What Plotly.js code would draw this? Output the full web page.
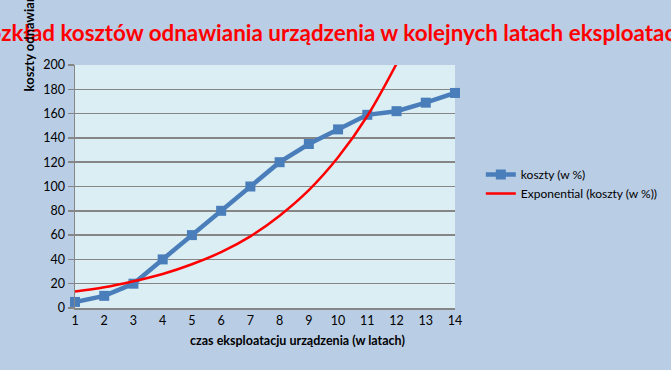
<!DOCTYPE html>
<html>
<head>
<meta charset="utf-8">
<script src="https://cdn.plot.ly/plotly-3.0.1.min.js"></script>
<style>
html,body{margin:0;padding:0;background:#b9cde5;}
#chart{width:671px;height:370px;}
</style>
</head>
<body>
<div id="chart"></div>
<script>
// Data
var years = [1, 2, 3, 4, 5, 6, 7, 8, 9, 10, 11, 12, 13, 14];
var costs = [5, 10, 20, 40, 60, 80, 100, 120, 135, 147, 159, 162, 169, 177];
var trendYears = [1, 2, 3, 4, 5, 6, 7, 8, 9, 10, 11, 12];
var trendValues = [13.5, 17, 22, 28, 36, 46, 59, 76, 97, 124, 158, 201];
var yTicks = [0, 20, 40, 60, 80, 100, 120, 140, 160, 180, 200];

var titleText = 'Rozkład kosztów odnawiania urządzenia w kolejnych latach eksploatacji';
var yTitleText = 'koszty odnawiania';
var xTitleText = 'czas eksploatacju urządzenia (w latach)';
var seriesName = 'koszty (w %)';
var trendName = 'Exponential (koszty (w %))';

var font = 'Lato, Carlito, "Liberation Sans", sans-serif';

var traces = [
  {
    x: years, y: costs, name: seriesName, type: 'scatter', mode: 'lines+markers',
    line: {color: '#4a7ebb', width: 4.5},
    marker: {symbol: 'square', size: 10, color: '#4a7ebb'},
    cliponaxis: false
  },
  {
    x: trendYears, y: trendValues, name: trendName, type: 'scatter', mode: 'lines',
    line: {color: '#ff0000', width: 2.5, shape: 'spline'}
  }
];

var layout = {
  width: 671, height: 370,
  paper_bgcolor: '#b9cde5',
  plot_bgcolor: '#dbeef4',
  margin: {l: 75, r: 216, t: 65, b: 62, autoexpand: false},
  font: {family: font, size: 12, color: '#000'},
  title: {
    text: '<b>' + titleText + '</b>',
    font: {family: font, size: 22.4, color: '#ff0000'},
    x: 0.493, xanchor: 'center', xref: 'container',
    y: 0.911, yanchor: 'middle', yref: 'container'
  },
  showlegend: true,
  legend: {
    x: 1.068, xanchor: 'left', y: 0.51, yanchor: 'middle',
    bgcolor: 'rgba(0,0,0,0)', font: {family: font, size: 12, color: '#000'},
    tracegroupgap: 0
  },
  xaxis: {
    range: [1, 14], tickvals: years, ticktext: years.map(String),
    showgrid: false, zeroline: false,
    showline: true, linecolor: '#868686', linewidth: 1.5,
    ticks: '', ticklen: 0,
    tickfont: {family: font, size: 12.5, color: '#000'},
    fixedrange: true
  },
  yaxis: {
    range: [0, 200], tickvals: yTicks,
    showgrid: true, gridcolor: '#868686', gridwidth: 1.5,
    zeroline: false,
    showline: true, linecolor: '#868686', linewidth: 1.5,
    ticks: 'outside', ticklen: 6, tickcolor: '#868686', tickwidth: 1.5,
    tickfont: {family: font, size: 12.5, color: '#000'},
    fixedrange: true
  },
  annotations: [
    {
      text: '<b>' + xTitleText + '</b>', xref: 'paper', yref: 'paper',
      x: 0.585, y: -0.132, xanchor: 'center', yanchor: 'middle', showarrow: false,
      font: {family: font, size: 12.5, color: '#000'}
    },
    {
      text: '<b>' + yTitleText + '</b>', xref: 'paper', yref: 'paper',
      x: -0.12, y: 1.111, xanchor: 'center', yanchor: 'middle', showarrow: false,
      textangle: -90,
      font: {family: font, size: 13, color: '#000'}
    }
  ]
};

Plotly.newPlot('chart', traces, layout, {displayModeBar: false, staticPlot: true});
</script>
</body>
</html>
